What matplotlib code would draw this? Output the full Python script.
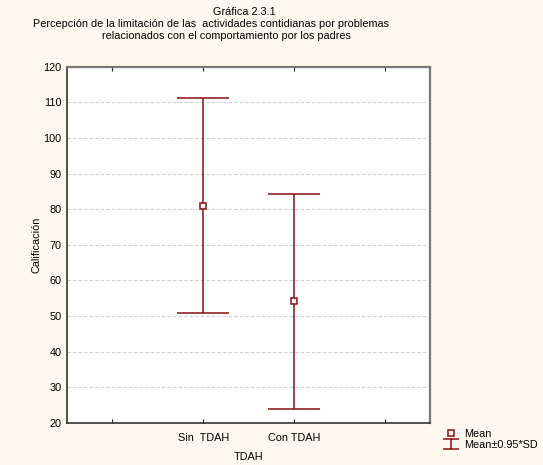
import numpy as np
import matplotlib.pyplot as plt
from matplotlib.path import Path
from matplotlib.lines import Line2D

# values
groups = ['Sin  TDAH', 'Con TDAH']
means = [80.95, 54.2]
upper = [111.1, 84.4]
lower = [50.8, 24.0]
title_lines = ['Gráfica 2.3.1',
               'Percepción de la limitación de las  actividades contidianas por problemas',
               'relacionados con el comportamiento por los padres']

bg = '#fef9ee'
red = '#8b0f0f'
fs = 7.8

plt.rcParams['font.family'] = ['Liberation Sans', 'DejaVu Sans']
fig = plt.figure(figsize=(5.43, 4.65), dpi=100, facecolor=bg)
ax = fig.add_axes([0.1234, 0.0903, 0.6686, 0.7663])
ax.set_facecolor('white')

x = np.arange(1, len(groups) + 1)
means = np.array(means)
yerr = [means - np.array(lower), np.array(upper) - means]

# vertical bars + caps
ax.errorbar(x, means, yerr=yerr, fmt='none', ecolor=red, elinewidth=1.1,
            capsize=18.5, capthick=1.1, zorder=3)
mean_pts, = ax.plot(x, means, 's', ms=4, mfc='white', mec=red, mew=1.1,
                    zorder=4, label='Mean')

# I-shaped symbol for the legend entry
ibar = Path([(-1, 0.65), (1, 0.65), (0, 0.65), (0, -0.65), (-1, -0.65), (1, -0.65)],
            [Path.MOVETO, Path.LINETO, Path.MOVETO, Path.LINETO, Path.MOVETO, Path.LINETO])
proxy = Line2D([], [], marker=ibar, ms=12, mew=1.1, mec=red, mfc='none',
               ls='none', label='Mean\u00b10.95*SD')

ax.set_xlim(-0.5, 3.5)
ax.set_ylim(20, 120)
ax.set_xticks([0, 1, 2, 3])
ax.set_xticklabels(['', groups[0], groups[1], ''])
ax.set_yticks(np.arange(20, 121, 10))
ax.tick_params(axis='x', direction='in', length=3, top=True, labelsize=fs,
               color='#222222', pad=7.5)
ax.tick_params(axis='y', length=0, labelsize=fs, pad=4)
ax.yaxis.grid(True, linestyle=(0, (3, 2)), color='#cfcfcf', linewidth=0.8)
ax.set_axisbelow(True)

for s in ['left', 'bottom']:
    ax.spines[s].set_color('#333333')
    ax.spines[s].set_linewidth(1.2)
for s in ['top', 'right']:
    ax.spines[s].set_color('#777777')
    ax.spines[s].set_linewidth(1.6)

ax.set_xlabel('TDAH', fontsize=fs, labelpad=6)
ax.set_ylabel('Calificación', fontsize=fs, labelpad=1)

# title lines, each centred where it sits in the original
for txt, cx, cy in zip(title_lines, [244, 211, 226], [12, 24, 36]):
    fig.text(cx / 543, 1 - cy / 465, txt, ha='center', va='center', fontsize=fs)

fig.legend(handles=[mean_pts, proxy], loc='upper left',
           bbox_to_anchor=(0.818, 0.078), frameon=False, fontsize=fs,
           handlelength=1.3, handletextpad=0.55, labelspacing=0.12,
           borderpad=0, borderaxespad=0)

fig.savefig('out.png', dpi=100, facecolor=bg)
